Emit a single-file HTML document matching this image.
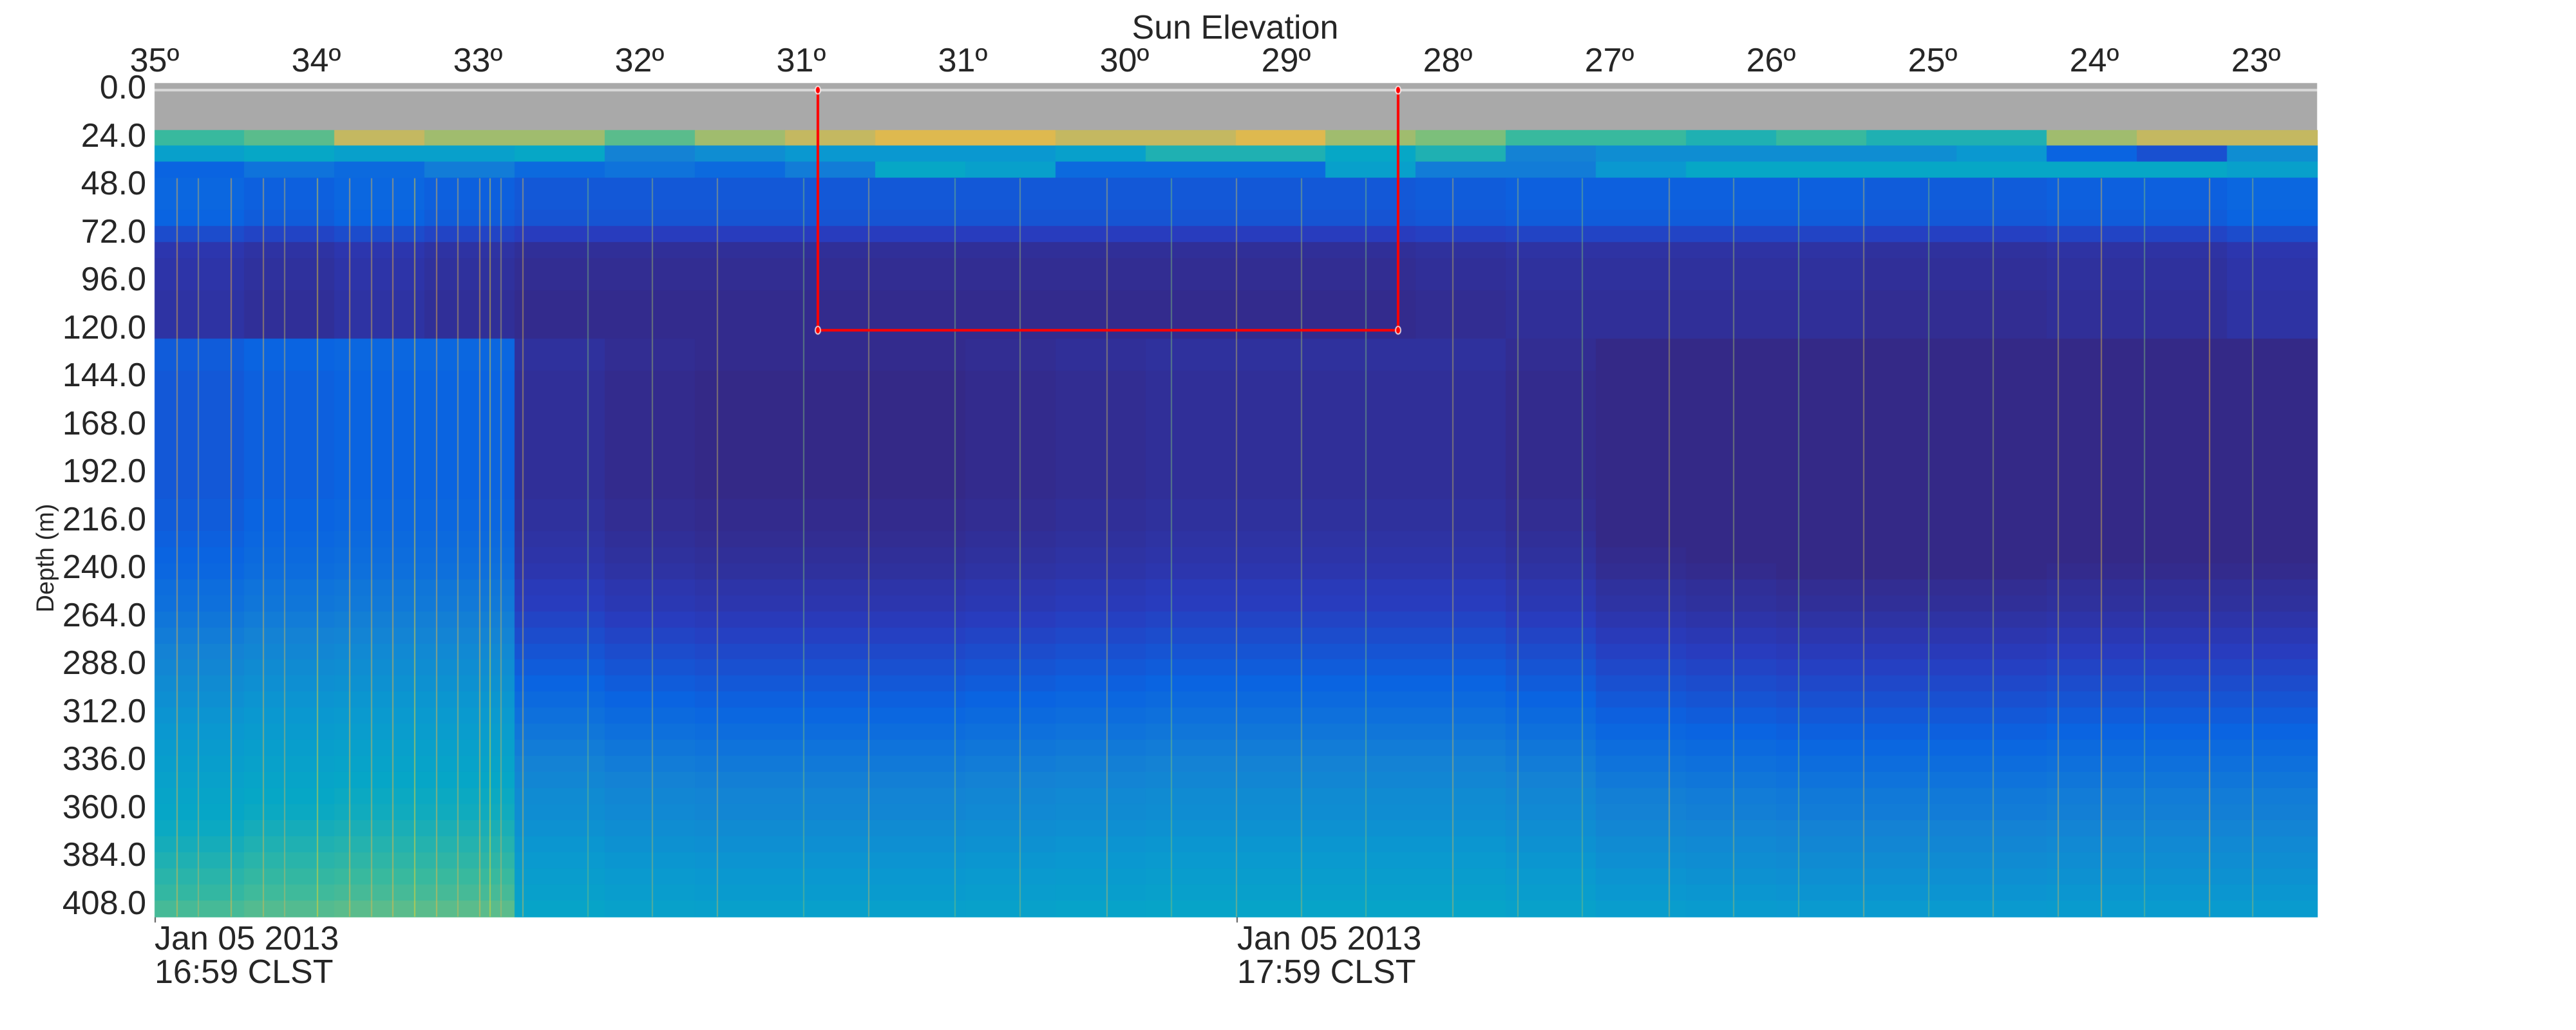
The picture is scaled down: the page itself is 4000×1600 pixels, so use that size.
<!DOCTYPE html>
<html>
<head>
<meta charset="utf-8">
<style>
  html,body{margin:0;padding:0;background:#fff;}
  #root{position:relative;width:4000px;height:1600px;overflow:hidden;font-family:"Liberation Sans",Arial,sans-serif;color:#262626;}
  .lbl{position:absolute;font-size:52px;line-height:52px;white-space:nowrap;}
  .ytick{position:absolute;font-size:52px;line-height:52px;right:3773px;text-align:right;white-space:nowrap;}
  .xtop{position:absolute;font-size:52px;line-height:52px;transform:translateX(-50%);white-space:nowrap;}
  canvas{position:absolute;left:0;top:0;}
</style>
</head>
<body>
<div id="root">
  <canvas id="cv" width="4000" height="1600"></canvas>
  <div class="lbl" style="left:1918px;top:17px;transform:translateX(-50%);">Sun Elevation</div>
  <div id="ytitle" class="lbl" style="font-size:38px;line-height:38px;left:71px;top:867px;transform:translate(-50%,-50%) rotate(-90deg);">Depth (m)</div>
  <div class="lbl" style="left:240px;top:1432px;">Jan 05 2013<br>16:59 CLST</div>
  <div class="lbl" style="left:1921px;top:1432px;">Jan 05 2013<br>17:59 CLST</div>
  <div id="labels"></div>
</div>
<script>
// ---- data ----
const yTickLabels = ["0.0","24.0","48.0","72.0","96.0","120.0","144.0","168.0","192.0","216.0","240.0","264.0","288.0","312.0","336.0","360.0","384.0","408.0"];
const sunTickLabels = ["35º","34º","33º","32º","31º","31º","30º","29º","28º","27º","26º","25º","24º","23º"];
// base value per 8 m depth bin (parula scale 0..1), starting below the grey surface band
const rowValues = [0.78,0.45,0.33,0.17,0.17,0.16,0.1,0.03,0.02,0.02,0.01,0.01,0.01,0.01,0.01,0.0,0.0,0.0,0.0,0.0,0.0,0.0,0.0,0.01,0.01,0.02,0.03,0.04,0.06,0.07,0.09,0.11,0.13,0.15,0.17,0.19,0.21,0.23,0.25,0.27,0.29,0.31,0.32,0.34,0.36,0.38,0.4,0.42,0.45];
// per time-group values for the top three bins
const row0Values = [0.6,0.65,0.8,0.75,0.75,0.65,0.75,0.8,0.85,0.85,0.8,0.8,0.85,0.75,0.7,0.6,0.6,0.55,0.6,0.55,0.55,0.75,0.8,0.8];
const row1Values = [0.45,0.5,0.45,0.45,0.5,0.3,0.35,0.4,0.4,0.4,0.45,0.55,0.55,0.5,0.55,0.3,0.35,0.35,0.35,0.35,0.4,0.2,0.15,0.35];
const row2Values = [0.2,0.25,0.22,0.28,0.22,0.25,0.22,0.28,0.5,0.45,0.22,0.22,0.22,0.45,0.28,0.28,0.4,0.5,0.5,0.5,0.5,0.5,0.5,0.45];
const upperOffsets = [0.04,0.02,0.04,0.02,0,0,0,0,0,0,0,0,0,0,0.01,0.02,0.02,0.02,0.02,0.01,0.01,0.02,0.02,0.04];
const deepOffsets = [0.17,0.19,0.2,0.2,0.03,0.01,0.0,0.0,0.0,0.01,0.02,0.03,0.03,0.03,0.03,0.01,-0.02,-0.03,-0.04,-0.04,-0.04,-0.03,-0.03,-0.03];
// bright ping stripes: time fraction & intensity
const stripeTimes = [0.01,0.02,0.035,0.05,0.06,0.075,0.09,0.1,0.11,0.12,0.13,0.14,0.15,0.155,0.16,0.17,0.2,0.23,0.26,0.3,0.33,0.37,0.4,0.44,0.47,0.5,0.53,0.56,0.6,0.63,0.66,0.7,0.73,0.76,0.79,0.82,0.85,0.88,0.9,0.92,0.95,0.97];
const stripeValues = [0.9,0.8,0.9,0.85,0.8,0.95,0.9,0.85,0.9,0.95,0.9,0.85,0.9,0.95,0.8,0.85,0.7,0.75,0.8,0.7,0.8,0.7,0.75,0.8,0.7,0.8,0.75,0.7,0.8,0.75,0.7,0.8,0.75,0.7,0.8,0.7,0.75,0.8,0.85,0.7,0.9,0.75];

// ---- layout ----
const X0 = 240, X1 = 3598, TOP = 129, SURF = 202, BOT = 1424;
const rowH = (BOT - SURF) / rowValues.length;
const xOfT = t => X0 + t * (X1 - X0);
const yDepthLabel = i => 136 + i * 74.5;

const stops = [[0,[52,41,135]],[0.1,[40,60,190]],[0.2,[10,100,225]],[0.3,[20,130,212]],[0.4,[10,152,208]],[0.5,[6,167,198]],[0.6,[56,185,158]],[0.7,[124,191,123]],[0.8,[196,184,97]],[0.9,[248,186,61]],[1,[249,251,14]]];
function cmap(v){
  v = Math.max(0, Math.min(1, v));
  for (let i = 1; i < stops.length; i++){
    if (v <= stops[i][0]){
      const a = stops[i-1], b = stops[i], f = (v - a[0]) / (b[0] - a[0]);
      return 'rgb(' + [0,1,2].map(k => Math.round(a[1][k] + f * (b[1][k] - a[1][k]))).join(',') + ')';
    }
  }
  return 'rgb(249,251,14)';
}

const cv = document.getElementById('cv');
const ctx = cv.getContext('2d');
ctx.fillStyle = '#a9a9a9';
ctx.fillRect(X0, TOP, X1 - X0, SURF - TOP);
ctx.fillStyle = '#d9d9d9';
ctx.fillRect(X0, 138, X1 - X0, 4);

const nG = row0Values.length;
const gW = (X1 - X0) / nG;
for (let g = 0; g < nG; g++){
  const gx = xOfT(g / nG);
  for (let r = 0; r < rowValues.length; r++){
    let v;
    if (r === 0) v = row0Values[g];
    else if (r === 1) v = row1Values[g];
    else if (r === 2) v = row2Values[g];
    else if (r < 13) v = rowValues[r] + upperOffsets[g];
    else v = rowValues[r] + deepOffsets[g];
    ctx.fillStyle = cmap(v);
    ctx.fillRect(Math.floor(gx), Math.floor(SURF + r * rowH), Math.ceil(gW) + 1, Math.ceil(rowH) + 1);
  }
}
for (let i = 0; i < stripeTimes.length; i++){
  ctx.fillStyle = cmap(stripeValues[i]);
  ctx.globalAlpha = 0.5;
  ctx.fillRect(Math.round(xOfT(stripeTimes[i])), SURF + 3 * rowH, 2, BOT - SURF - 3 * rowH);
}
ctx.globalAlpha = 1;

ctx.strokeStyle = '#ff0000';
ctx.lineWidth = 4;
ctx.beginPath();
ctx.moveTo(1270, 140); ctx.lineTo(1270, 513); ctx.lineTo(2171, 513); ctx.lineTo(2171, 140);
ctx.stroke();
ctx.fillStyle = '#ff0000'; ctx.strokeStyle = '#ffffff'; ctx.lineWidth = 1.5;
[[1270,140],[1270,513],[2171,513],[2171,140]].forEach(p => {
  ctx.beginPath(); ctx.ellipse(p[0], p[1], 4, 6, 0, 0, Math.PI * 2); ctx.fill(); ctx.stroke();
});

ctx.fillStyle = '#555';
ctx.fillRect(240, 1425, 2, 8);
ctx.fillRect(1920, 1425, 2, 8);

const lab = document.getElementById('labels');
yTickLabels.forEach((t, i) => {
  const d = document.createElement('div');
  d.className = 'ytick';
  
  
  d.style.top = (yDepthLabel(i) - 26) + 'px';
  d.textContent = t;
  lab.appendChild(d);
});
sunTickLabels.forEach((t, i) => {
  const d = document.createElement('div');
  d.className = 'xtop';
  
  
  d.style.left = (240 + i * 251) + 'px';
  d.style.top = '68px';
  d.textContent = t;
  lab.appendChild(d);
});
</script>
</body>
</html>
